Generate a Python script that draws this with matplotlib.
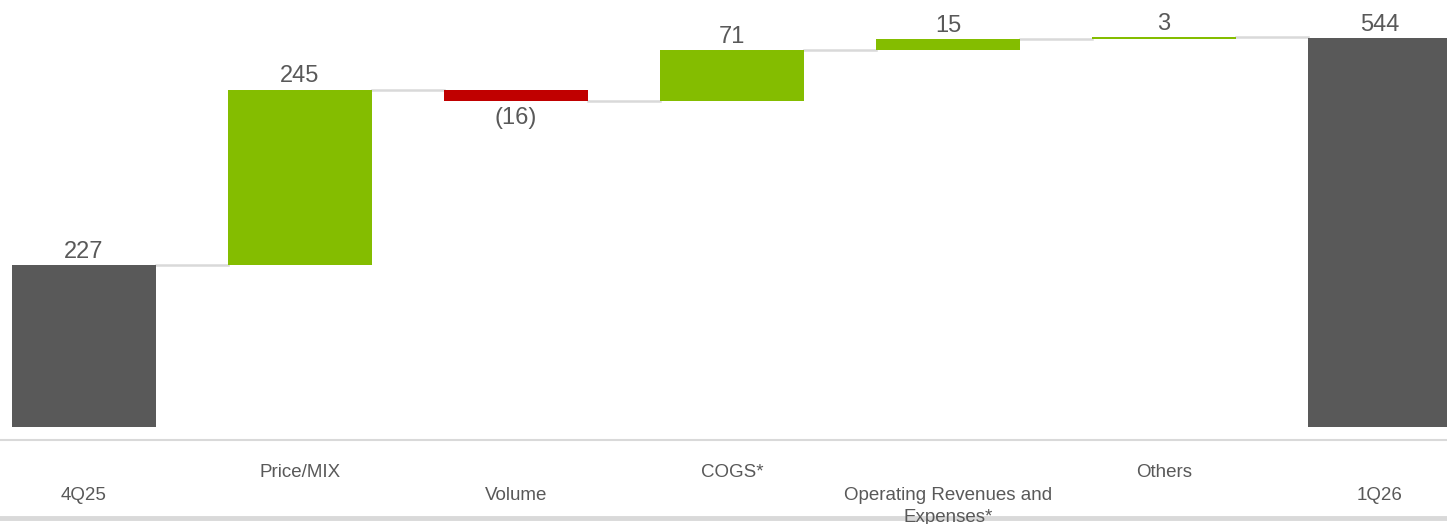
"""Waterfall bridge 4Q25 -> 1Q26."""

import matplotlib

matplotlib.use("Agg")
import matplotlib.pyplot as plt
from matplotlib.lines import Line2D

plt.rcParams["font.family"] = ["Liberation Sans", "DejaVu Sans"]

categories = ["4Q25", "Price/MIX", "Volume", "COGS*", "Operating Revenues and\nExpenses*", "Others", "1Q26"]
values = [227, 245, -16, 71, 15, 3, 544]
is_total = [True, False, False, False, False, False, True]

GRAY = "#595959"
GREEN = "#84BD00"
RED = "#C00000"
LIGHT = "#D9D9D9"

W, H = 1447, 524
fig = plt.figure(figsize=(W / 100, H / 100), dpi=100)

# axes spans the full width, top of figure down to the light axis line
ax_bottom_px = 440
ax = fig.add_axes([0, 1 - ax_bottom_px / H, 1, ax_bottom_px / H])

slot = 216.0
first_center = 84.0
ax.set_xlim(-first_center / slot, (W - first_center) / slot)
px_per_unit = 0.715
ax.set_ylim(-(ax_bottom_px - 427) / px_per_unit, 427 / px_per_unit)

bar_w = 144 / slot
running = 0
tops = []
for i, (cat, val, total) in enumerate(zip(categories, values, is_total)):
    if total:
        bottom, height, color = 0, val, GRAY
        running = val
    else:
        bottom = running if val >= 0 else running + val
        height = abs(val)
        color = GREEN if val >= 0 else RED
        running += val
    ax.bar(i, height, bottom=bottom, width=bar_w, color=color, zorder=2)
    tops.append(running)

    label = f"({abs(val)})" if val < 0 else f"{val}"
    if val >= 0:
        ax.text(i, bottom + height + 3, label, ha="center", va="bottom", fontsize=17, color=GRAY)
    else:
        ax.text(i, bottom - 8, label, ha="center", va="top", fontsize=17, color=GRAY)

# connectors between bars
for i in range(len(values) - 1):
    ax.plot([i + bar_w / 2, i + 1 - bar_w / 2], [tops[i], tops[i]], color=LIGHT, lw=1.8, zorder=1)

ax.set_yticks([])
ax.set_xticks([])
for side in ("top", "left", "right"):
    ax.spines[side].set_visible(False)
ax.spines["bottom"].set_color(LIGHT)
ax.spines["bottom"].set_linewidth(1.5)

# category labels, staggered in two rows (first line centred on the row)
for i, cat in enumerate(categories):
    y_px = 470 if i % 2 == 1 else 493
    x_fig = (first_center + i * slot) / W
    fig.text(x_fig, 1 - (y_px - 6) / H, cat, ha="center", va="top", fontsize=13.5, color=GRAY,
             linespacing=1.35, zorder=3)

# bottom rule
fig.add_artist(Line2D([0, 1], [1 - 518 / H, 1 - 518 / H], color=LIGHT, lw=3.5, zorder=1,
                      transform=fig.transFigure))

fig.savefig("out.png", dpi=100)
